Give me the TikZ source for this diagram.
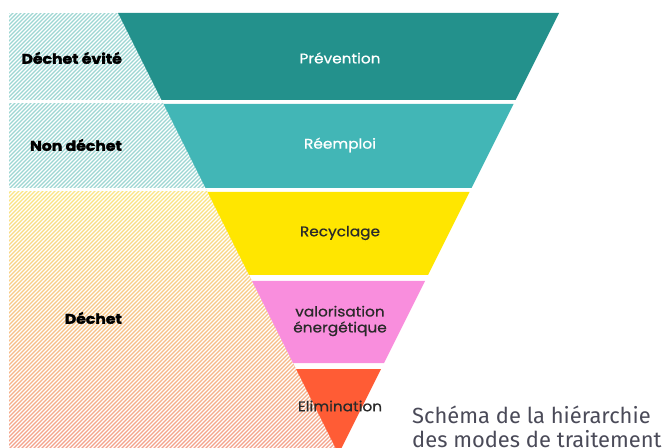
\documentclass[tikz,border=0pt]{standalone}
\usepackage{fontspec}
\setmainfont{Poppins}
\newfontfamily\capfont{Fira Sans}
\newfontfamily\inlabfont{Poppins}[FakeBold=0.8, FakeStretch=1.1]
\newfontfamily\sidefont{Poppins}[FakeStretch=1.1, BoldFeatures={FakeBold=2.5, FakeStretch=1.12}]
\definecolor{cPrev}{HTML}{23918C}
\definecolor{cReem}{HTML}{42B6B6}
\definecolor{cRecy}{HTML}{FFE600}
\definecolor{cValo}{HTML}{F98EDD}
\definecolor{cElim}{HTML}{FF5C35}
\definecolor{hTeal}{HTML}{9DD6D3}
\definecolor{hYel}{HTML}{FAE683}
\definecolor{hPink}{HTML}{F4BBEC}
\definecolor{hSalm}{HTML}{F4A08C}
\definecolor{txtDark}{HTML}{2A2A2A}
\definecolor{capGrey}{HTML}{4A4A58}
\tikzset{
  band/.style={draw=none},
  inlabel/.style={font=\inlabfont\fontsize{14}{16}\selectfont, align=center},
  sidelabel/.style={font=\sidefont\bfseries\fontsize{14}{16}\selectfont, anchor=east, text=black, inner sep=0pt},
  caption/.style={font=\capfont\fontsize{22}{24}\selectfont, text=capGrey, anchor=base west, inner sep=0pt}
}
\begin{document}
\begin{tikzpicture}[x=1bp,y=-1bp]
\useasboundingbox (0,0) rectangle (669,448);
% hatched background on the left
\begin{scope}
  \clip (9,13) -- (118,13) -- (338.5,454) -- (9,454) -- cycle;
  \fill[hTeal] (9,13) rectangle (340,190);
  \shade[top color=hYel, middle color=hPink, bottom color=hSalm] (9,190) rectangle (340,454);
  \foreach \i in {0,...,205} {
    \draw[white, line width=1.4bp] (-460+4*\i,460) -- ++(460,-460);
  }
  \fill[white] (9,100.5) rectangle (340,103.5);
  \fill[white] (9,188.5) rectangle (340,191.5);
\end{scope}
% pyramid bands
\fill[band, cPrev] (118,13) -- (559,13) -- (515.5,100) -- (161.5,100) -- cycle;
\fill[band, cReem] (163.5,104) -- (513.5,104) -- (471.5,188) -- (205.5,188) -- cycle;
\fill[band, cRecy] (207.5,192) -- (469.5,192) -- (428,275) -- (249,275) -- cycle;
\fill[band, cValo] (252,281) -- (425,281) -- (384,363) -- (293,363) -- cycle;
\fill[band, cElim] (296,369) -- (381,369) -- (338.5,454) -- cycle;
% labels in the pyramid
\node[inlabel, text=white] (prev) at (340,58) {Prévention};
\node[inlabel, text=white] (reem) at (340,145) {Réemploi};
\node[inlabel, text=txtDark] (recy) at (340,233) {Recyclage};
\node[inlabel, text=txtDark] (valo) at (340,321) {valorisation\\énergétique};
\node[inlabel, text=txtDark] (elim) at (340,406) {Elimination};
% side labels
\node[sidelabel] (evite) at (122,58) {Déchet évité};
\node[sidelabel] (nondechet) at (122,145) {Non déchet};
\node[sidelabel] (dechet) at (122,318) {Déchet};
% caption
\node[caption] (cap1) at (412,423) {Schéma de la hiérarchie};
\node[caption] (cap2) at (412,447) {des modes de traitement};
\end{tikzpicture}
\end{document}
